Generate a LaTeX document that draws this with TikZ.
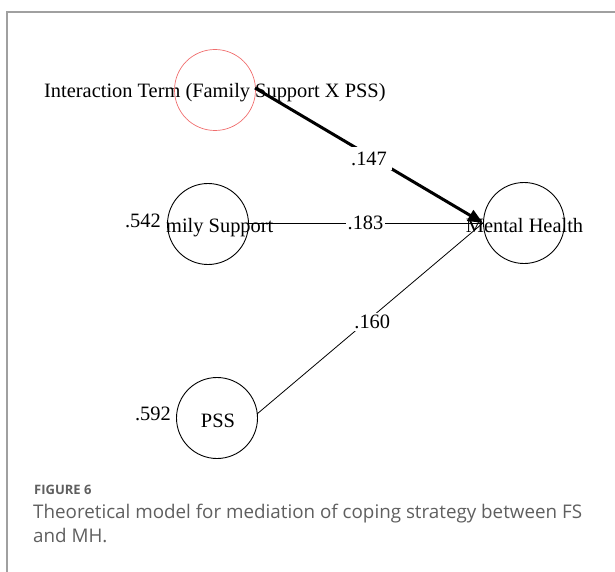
\documentclass[tikz,border=0pt]{standalone}
\usepackage{fontspec}
\setmainfont{Liberation Serif}
\newfontfamily\capfont{Open Sans}
\usetikzlibrary{arrows.meta}
\definecolor{framegray}{RGB}{160,160,160}
\definecolor{capgray}{RGB}{95,95,95}
\definecolor{ringred}{RGB}{240,110,110}
\tikzset{
  var/.style={circle,draw=black,line width=0.9pt,minimum size=81pt,inner sep=0pt},
  lbl/.style={font=\fontsize{20.4}{22}\selectfont,inner sep=1pt},
  coef/.style={font=\fontsize{20.4}{22}\selectfont,fill=white,inner sep=2pt},
  thin path/.style={line width=0.8pt},
  thick path/.style={line width=3pt,-{Triangle[length=15pt,width=12pt]}},
}
\begin{document}
\begin{tikzpicture}[x=1pt,y=-1pt]
\useasboundingbox (0,0) rectangle (615,572);
\draw[framegray,line width=1.5pt] (7,572) -- (7,12) -- (615,12);
% text and circles
\node[lbl,anchor=west] (intTxt) at (43,93) {Interaction Term (Family Support X PSS)};
\node[var,draw=ringred,line width=0.7pt] (int) at (215,90) {};
\node[var] (fs) at (208,224) {};
\node[lbl,anchor=west] (fsTxt) at (165,228) {mily Support};
\node[lbl,anchor=east] (fsErr) at (162,221) {.542};
\node[var] (mh) at (524,223) {};
\node[lbl] (mhTxt) at (524.5,226) {Mental Health};
\node[var] (pss) at (217,418) {};
\node[lbl] (pssTxt) at (218,421) {PSS};
\node[lbl,anchor=east] (pssErr) at (172,414) {.592};
\coordinate (tip) at (483,223);
\coordinate (intStart) at (255,88);
\coordinate (fsEnd) at (248,223);
\coordinate (pssEnd) at (257,414);
% connectors
\draw[thin path] (fsEnd) -- node[coef,pos=0.5] (c183) {.183} (tip);
\draw[thin path] (pssEnd) -- node[coef,pos=0.51,yshift=-5pt] (c160) {.160} (tip);
\draw[thick path] (intStart) -- node[coef,pos=0.5,inner sep=5pt,yshift=-3pt] (c147) {.147} (tip);
% caption
\node[anchor=west,text=capgray,font=\capfont\bfseries\fontsize{13}{15}\selectfont,inner sep=0pt] (figno) at (34,490) {FIGURE 6};
\node[anchor=north west,text=capgray,font=\capfont\fontsize{18.8}{24}\selectfont,align=left,inner sep=0pt] (cap) at (33,504) {Theoretical model for mediation of coping strategy between FS\\and MH.};
\end{tikzpicture}
\end{document}
